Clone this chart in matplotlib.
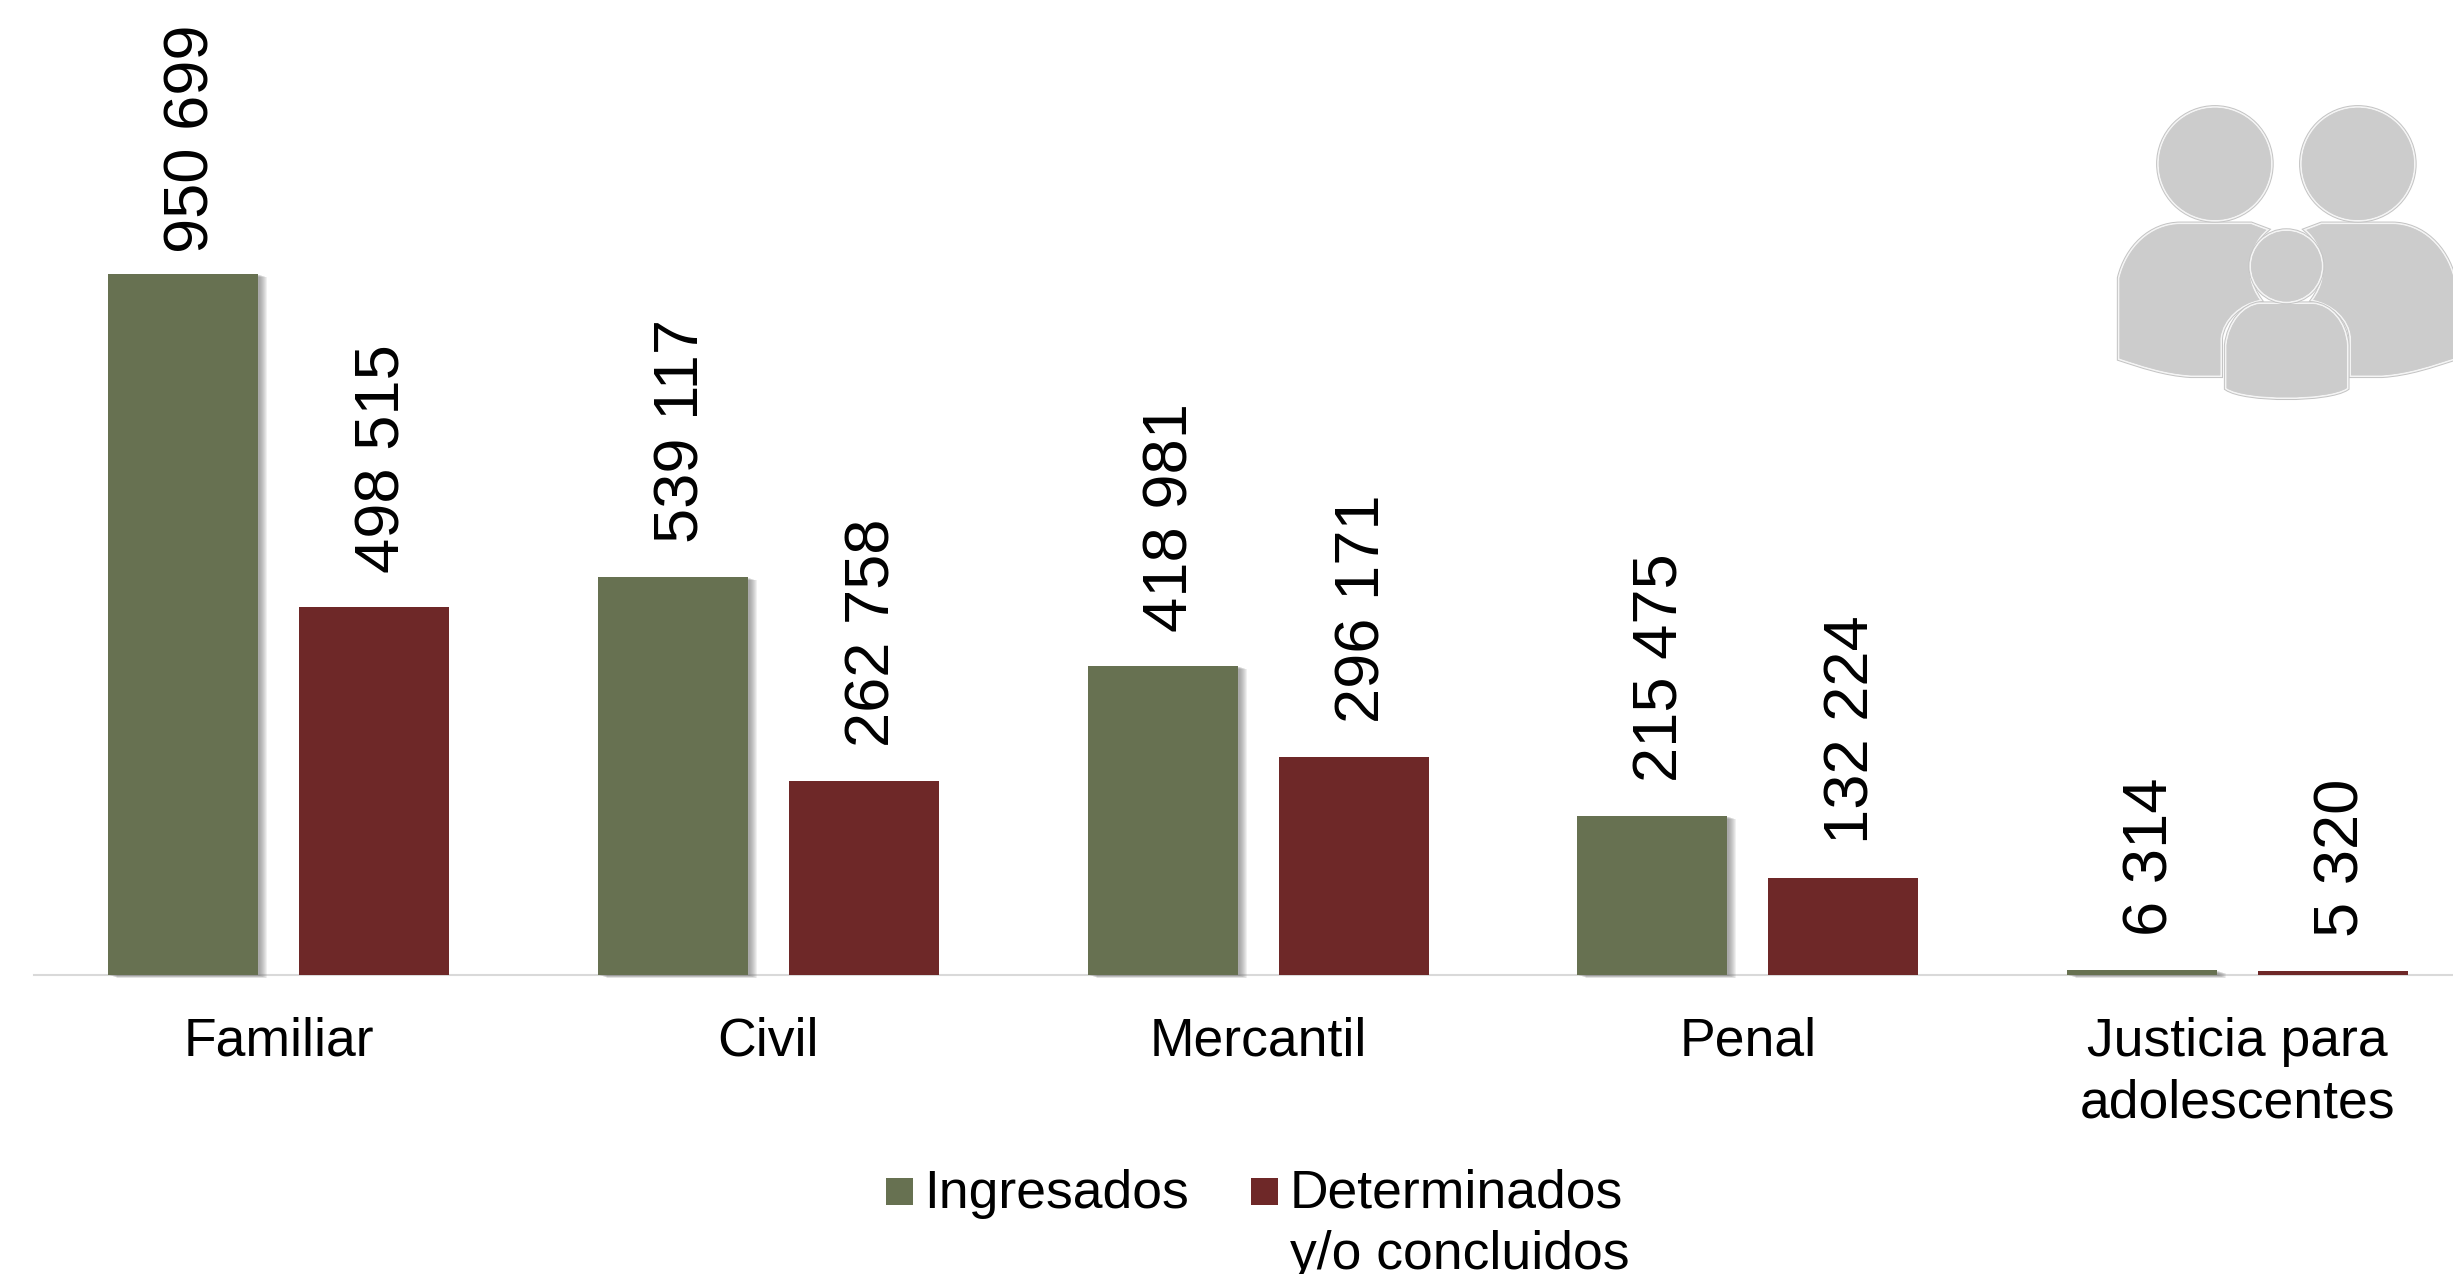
import matplotlib
matplotlib.use("Agg")
import matplotlib.pyplot as plt
import matplotlib.patheffects as pe
from matplotlib.patches import Circle, PathPatch, Rectangle
from matplotlib.path import Path

plt.rcParams['font.family'] = ['Liberation Sans', 'DejaVu Sans']

categories = ['Familiar', 'Civil', 'Mercantil', 'Penal', 'Justicia para\nadolescentes']
ingresados = [950699, 539117, 418981, 215475, 6314]
determinados = [498515, 262758, 296171, 132224, 5320]
legend_labels = ['Ingresados', 'Determinados\ny/o concluidos']

GREEN = '#677151'
RED = '#6e2828'
W, H = 2453, 1274
BASE_Y = 975          # baseline of the bars, in pixels
TOP_Y = 274           # top of the tallest bar
LEFT_X = 34           # where the axis line starts
FIRST_X = 278.5       # centre of first group
STEP = 489.75         # pixels between groups
PX = 72 / 100         # one pixel in points


def fmt(v):
    return f"{v:,}".replace(",", " ")


def zx(x):
    return 2080 + x / 2.98


def zy(y):
    return 80 + y / 2.98


def icon_path(points):
    """First point is a move, then groups of three make a bezier; single tuples in a list are lines."""
    verts = [(zx(points[0][0]), zy(points[0][1]))]
    codes = [Path.MOVETO]
    for seg in points[1:]:
        if isinstance(seg, list):
            verts += [(zx(a), zy(b)) for a, b in seg]
            codes += [Path.CURVE4] * 3
        else:
            verts.append((zx(seg[0]), zy(seg[1])))
            codes.append(Path.LINETO)
    verts.append(verts[0])
    codes.append(Path.CLOSEPOLY)
    return Path(verts, codes)


fig = plt.figure(figsize=(W / 100, H / 100), dpi=100)
ax = fig.add_axes([LEFT_X / W, 1 - BASE_Y / H, 1 - LEFT_X / W, BASE_Y / H])

xs = list(range(len(categories)))
off = 95.5 / STEP
width = 150 / STEP

shadow = [pe.SimplePatchShadow(offset=(d * PX, -d * PX / 3), shadow_rgbFace='#777777', alpha=0.11)
          for d in (9, 8, 7, 6, 5, 4, 3, 2)] + [pe.Normal()]

bars1 = ax.bar([x - off for x in xs], ingresados, width, color=GREEN, clip_on=False, zorder=3)
bars2 = ax.bar([x + off for x in xs], determinados, width, color=RED, clip_on=False, zorder=3)
for b in bars1:
    b.set_path_effects(shadow)

ax.set_xlim((LEFT_X - FIRST_X) / STEP, (W - FIRST_X) / STEP)
ax.set_ylim(0, max(ingresados) * BASE_Y / (BASE_Y - TOP_Y))

for bars, vals in ((bars1, ingresados), (bars2, determinados)):
    for b, v in zip(bars, vals):
        # the tallest label sits closer to its bar so that it fits in the picture
        gap = 21 if v == max(ingresados) else 34
        ax.annotate(fmt(v), (b.get_x() + b.get_width() / 2, v), xytext=(9 * PX, gap * PX),
                    textcoords='offset points', rotation=90, ha='center', va='bottom',
                    fontsize=45.5, color='black', annotation_clip=False)

for s in ('top', 'left', 'right'):
    ax.spines[s].set_visible(False)
ax.spines['bottom'].set_color('#d9d9d9')
ax.spines['bottom'].set_linewidth(1.5)
ax.set_yticks([])
ax.set_xticks(xs)
ax.set_xticklabels(categories, fontsize=38.5, color='black', linespacing=1.3)
ax.tick_params(axis='x', length=0, pad=30)

# overlay in pixel coordinates for the legend and the family icon
over = fig.add_axes([0, 0, 1, 1], zorder=5)
over.set_xlim(0, W)
over.set_ylim(H, 0)
over.axis('off')
over.patch.set_alpha(0)

for sx, color in zip((886, 1251), (GREEN, RED)):
    over.add_patch(Rectangle((sx, 1178), 27, 27, facecolor=color, edgecolor='none'))
for tx, label in zip((924, 1290), legend_labels):
    for i, line in enumerate(label.split('\n')):
        over.text(tx, 1208 + i * 61, line, fontsize=38.5, color='black', ha='left', va='baseline')

halo = [pe.withStroke(linewidth=5.5 * PX, foreground='#c4c4c4'),
        pe.withStroke(linewidth=3.5 * PX, foreground='#f4f4f4'),
        pe.Normal()]
GREY = '#cccccc'

left_body = [(118, 590), [(140, 500), (210, 430), (300, 430)], (510, 430), (555, 447),
             [(505, 490), (480, 580), (535, 655)], [(480, 665), (425, 710), (418, 770)],
             (418, 880), (330, 880), [(250, 875), (180, 850), (118, 830)]]
right_body = [(1113, 590), [(1090, 500), (1020, 430), (930, 430)], (720, 430), (675, 447),
              [(725, 490), (750, 580), (695, 655)], [(750, 665), (805, 710), (808, 770)],
              (808, 880), (900, 880), [(980, 875), (1050, 850), (1113, 830)]]
child_body = [(437, 918), (437, 790), [(445, 720), (490, 672), (535, 668)], (695, 668),
              [(745, 672), (790, 720), (795, 790)], (795, 918),
              [(740, 955), (490, 955), (437, 918)]]

for pts in (left_body, right_body, child_body):
    over.add_patch(PathPatch(icon_path(pts), facecolor=GREY, edgecolor='none', path_effects=halo))
for cx, cy, r in ((402, 250, 167), (828, 250, 167), (615, 555, 105)):
    over.add_patch(Circle((zx(cx), zy(cy)), r / 2.98, facecolor=GREY, edgecolor='none', path_effects=halo))

fig.savefig('out.png', dpi=100)
